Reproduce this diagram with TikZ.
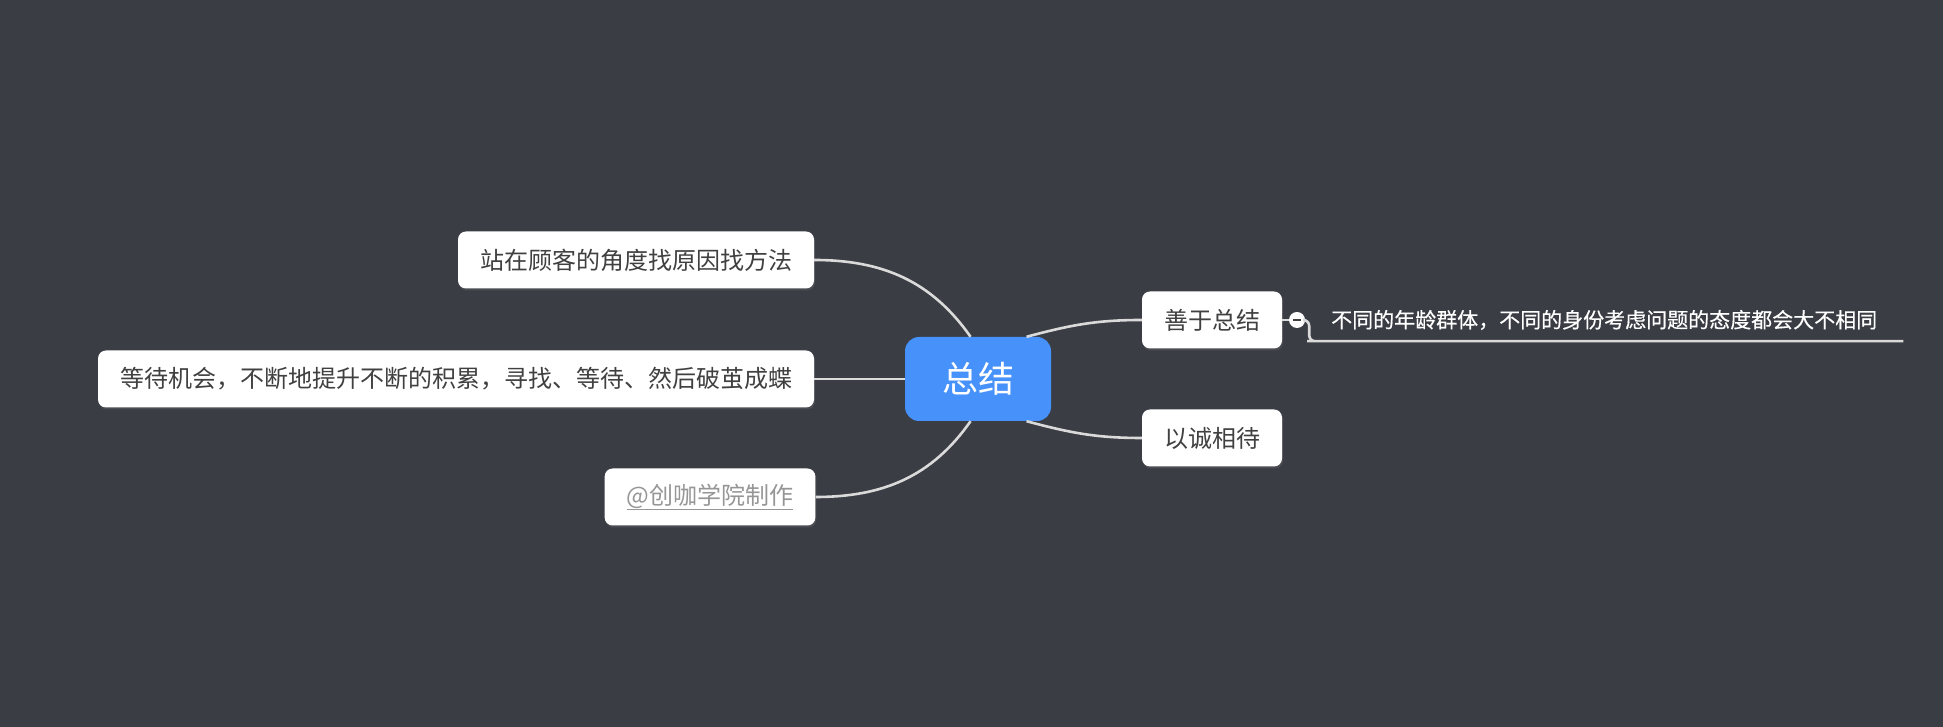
\documentclass[tikz,border=0pt]{standalone}
\usepackage{fontspec}
\setmainfont{Noto Sans CJK SC}
\newfontfamily\leaffont[FakeBold=0.5]{Noto Sans CJK SC}
\usetikzlibrary{shadows}
\definecolor{bgcol}{RGB}{58,61,68}
\definecolor{topiccol}{RGB}{70,145,250}
\definecolor{linkcol}{RGB}{218,218,218}
\definecolor{textcol}{RGB}{64,64,64}
\definecolor{markcol}{RGB}{150,150,150}
\begin{document}
\begin{tikzpicture}[x=1pt, y=1pt,
  root/.style = {fill=topiccol, text=white, rounded corners=14pt, minimum width=146pt, minimum height=84pt, font=\fontsize{36}{40}\selectfont},
  main/.style = {fill=white, text=textcol, rounded corners=8pt, inner xsep=22pt, inner ysep=0pt, minimum height=57pt, font=\fontsize{24}{28}\selectfont, drop shadow={shadow xshift=1pt, shadow yshift=-2pt, opacity=0.25}},
  leaf/.style = {text=white, inner xsep=18pt, inner ysep=0pt, minimum height=42pt, font=\leaffont\fontsize{21}{24}\selectfont},
  fold/.style = {circle, fill=white, minimum size=16pt, inner sep=0pt, path picture={\draw[textcol, line width=1.8pt] ([xshift=-4pt]path picture bounding box.center) -- ([xshift=4pt]path picture bounding box.center);}},
  link/.style = {draw=linkcol, line width=2.6pt}]
  \fill[bgcol] (0,0) rectangle (1943,727);
  \useasboundingbox (0,0) rectangle (1943,727);

  \node[root] (c) at (978,348) {总结};
  \node[main] (s) at (636,467) {站在顾客的角度找原因找方法};
  \node[main] (w) at (456,348) {等待机会，不断地提升不断的积累，寻找、等待、然后破茧成蝶};
  \node[main, text=markcol] (z) at (710,230) {\underline{@创咖学院制作}};
  \node[main] (g) at (1212,407) {善于总结};
  \node[main] (y) at (1212,289) {以诚相待};
  \node[fold] (k) at (1297,407) {};
  \node[leaf, anchor=west] (d) at (1313,407) {不同的年龄群体，不同的身份考虑问题的态度都会大不相同};

  \draw[link] (c.100) to[out=125, in=0] (s.east);
  \draw[link] (c.west) -- (w.east);
  \draw[link] (c.260) to[out=-125, in=0] (z.east);
  \draw[link] (c.41) to[out=15, in=180] (g.west);
  \draw[link] (c.-41) to[out=-15, in=180] (y.west);
  \draw[link] (g.east) -- (k.west);
  \draw[link, rounded corners=6pt] (k.east) -- ++(4,0) |- (d.south west) -- ([xshift=8pt]d.south east);
\end{tikzpicture}
\end{document}
